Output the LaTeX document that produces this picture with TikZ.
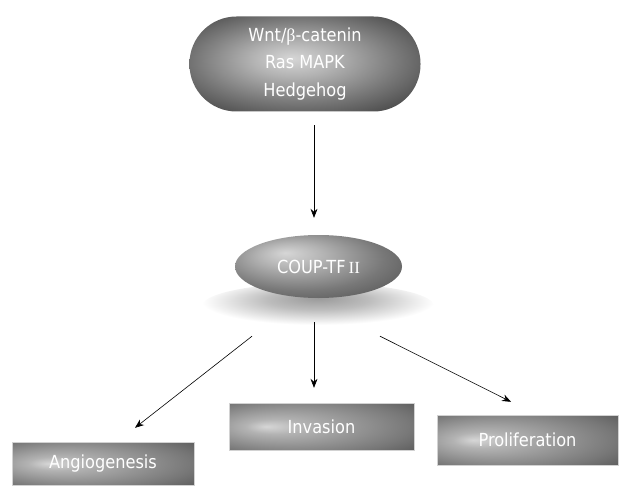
\documentclass[tikz,border=0pt]{standalone}
\usepackage{fontspec}
\setmainfont{DejaVu Sans Condensed}
\newfontfamily\serifrm{Liberation Serif}
\usetikzlibrary{arrows.meta,shapes.geometric}
\definecolor{gA}{gray}{0.84}
\definecolor{gB}{gray}{0.70}
\definecolor{gC}{gray}{0.47}
\definecolor{gD}{gray}{0.30}
\definecolor{gE}{gray}{0.26}
\definecolor{gS1}{gray}{0.60}
\definecolor{gS2}{gray}{0.74}
\pgfdeclareradialshading{boxshade}{\pgfpoint{-15bp}{0bp}}{color(0bp)=(gA); color(8bp)=(gB); color(30bp)=(gC); color(44bp)=(gD); color(50bp)=(gE)}
\pgfdeclareradialshading{pillshade}{\pgfpoint{-3bp}{3bp}}{color(0bp)=(gA); color(9bp)=(gB); color(22bp)=(gC); color(32bp)=(gD); color(50bp)=(gE)}
\pgfdeclareradialshading{ellshade}{\pgfpoint{-10bp}{11bp}}{color(0bp)=(gA); color(10bp)=(gB); color(25bp)=(gC); color(40bp)=(gD); color(55bp)=(gE)}
\pgfdeclareradialshading{shadowshade}{\pgfpoint{0bp}{9bp}}{color(0bp)=(gS1); color(11bp)=(gS2); color(25bp)=(white); color(50bp)=(white)}
\tikzset{
  lbl/.style={text=white, font=\fontsize{18pt}{27.5pt}\selectfont, align=center, inner sep=0pt},
  outbox/.style={lbl, rectangle, shading=boxshade, draw=gray!35, line width=0.4pt},
  arr/.style={-{Stealth[length=9pt,width=7pt,inset=3pt]}, line width=0.6pt}
}
\begin{document}
\begin{tikzpicture}[x=1pt,y=-1pt]
\useasboundingbox (0,0) rectangle (620,486);
% top pill
\node[lbl, rectangle, rounded corners=47pt, shading=pillshade, minimum width=231pt, minimum height=95pt] (top) at (305,64)
  {Wnt/{\serifrm β}-catenin\\Ras MAPK\\Hedgehog};
% shadow
\node[ellipse, shading=shadowshade, minimum width=232pt, minimum height=46pt, inner sep=0pt] (shadow) at (318,306) {};
% COUP ellipse
\node[lbl, ellipse, shading=ellshade, minimum width=167pt, minimum height=63pt] (coup) at (318.5,266.5)
  {COUP-TF\,{\serifrm\fontsize{17pt}{20pt}\selectfont II}};
% outcome boxes
\node[outbox, minimum width=182pt, minimum height=43pt] (ang) at (103,463.5) {Angiogenesis};
\node[outbox, minimum width=185pt, minimum height=47pt] (inv) at (321.5,426.5) {Invasion};
\node[outbox, minimum width=181pt, minimum height=50pt] (pro) at (527.5,440) {Proliferation};
% arrows
\draw[arr] ([xshift=9pt,yshift=-13.5pt]top.south) -- ([xshift=-4.5pt,yshift=17pt]coup.north);
\draw[arr] ([xshift=-66pt,yshift=-7pt]shadow.south) -- ([xshift=32pt,yshift=14pt]ang.north);
\draw[arr] ([xshift=-4pt,yshift=7pt]shadow.south) -- ([xshift=-7.5pt,yshift=15pt]inv.north);
\draw[arr] ([xshift=62pt,yshift=-7pt]shadow.south) -- ([xshift=-16.5pt,yshift=13pt]pro.north);
\end{tikzpicture}
\end{document}
